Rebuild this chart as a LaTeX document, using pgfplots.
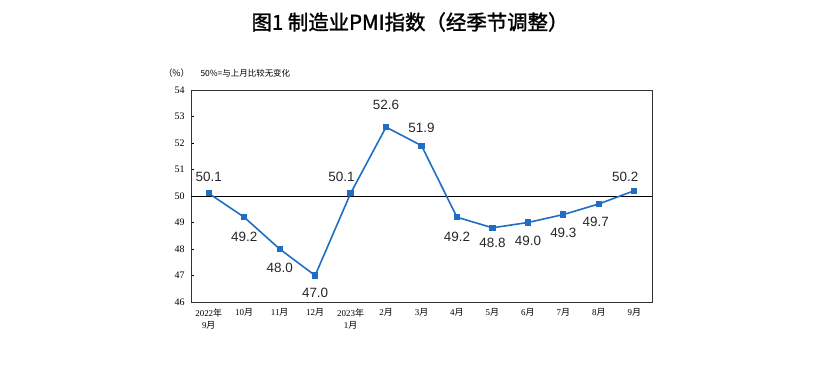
\documentclass[border=0pt]{standalone}
\usepackage{pgfplots}
\pgfplotsset{compat=1.18}
\usepackage{fontspec}
\setmainfont{Liberation Serif}
\newfontfamily\arialf{Liberation Sans}
\newfontfamily\cjk{Noto Sans CJK SC}
\newfontfamily\cjkt[BoldFont={Noto Sans CJK SC}, BoldFeatures={FakeBold=1.5}]{Noto Sans CJK SC}
\definecolor{lineblue}{HTML}{1F6EC4}
\pgfplotstableread{
x y lab dx dy
0 50.1 50.1 0 16
1 49.2 49.2 0 -20
2 48.0 48.0 0 -19
3 47.0 47.0 0 -17.5
4 50.1 50.1 -9 16
5 52.6 52.6 0 22
6 51.9 51.9 0 17.6
7 49.2 49.2 0 -20
8 48.8 48.8 0 -15
9 49.0 49.0 0 -18.5
10 49.3 49.3 0 -18.4
11 49.7 49.7 -3 -18
12 50.2 50.2 -9 14
}\pmidata
\begin{document}
\begin{tikzpicture}[x=1bp,y=1bp]
\useasboundingbox (0,0) rectangle (839,379);
\node[font={\cjkt\bfseries\fontsize{20.5}{24}\selectfont}] at (410,357) {图1 制造业PMI指数（经季节调整）};
\node[font={\cjk\fontsize{9}{10}\selectfont}, anchor=west] at (160,306) {（\%）};
\node[font={\cjk\fontsize{8.5}{10}\selectfont}, anchor=west] at (197,306) {50\%=与上月比较无变化};
\begin{axis}[
  at={(191bp,77bp)}, anchor=south west, scale only axis,
  width=461bp, height=212bp,
  xmin=-0.5, xmax=12.5, ymin=46, ymax=54,
  ytick={46,47,...,54},
  xtick={0,...,12},
  xticklabels={{2022{\cjk 年}\\9{\cjk 月}},10{\cjk 月},11{\cjk 月},12{\cjk 月},{2023{\cjk 年}\\1{\cjk 月}},2{\cjk 月},3{\cjk 月},4{\cjk 月},5{\cjk 月},6{\cjk 月},7{\cjk 月},8{\cjk 月},9{\cjk 月}},
  xticklabel style={align=center, font={\fontsize{9}{12}\selectfont}, yshift=-3bp},
  yticklabel style={font={\fontsize{10}{12}\selectfont}, xshift=-3bp},
  /pgf/number format/assume math mode=true,
  xtick style={draw=none},
  ytick style={black, line width=0.6bp},
  major tick length=3bp,
  tick align=inside,
  ytick pos=left,
  axis line style={black!80, line width=0.9bp},
  clip=false,
]
\addplot[black, line width=0.9bp] coordinates {(-0.5,50) (12.5,50)};
\addplot[lineblue, line width=1.6bp, mark=square*, mark size=2.3bp,
  mark options={solid, fill=lineblue},
  point meta=explicit symbolic,
  visualization depends on={\thisrow{dx}\as\myDx},
  visualization depends on={\thisrow{dy}\as\myDy},
  nodes near coords,
  every node near coord/.style={anchor=center, inner sep=0pt, xshift=\myDx bp, yshift=\myDy bp, text=black!85, font={\arialf\fontsize{13.5}{14}\selectfont}},
] table[x=x, y=y, meta=lab] {\pmidata};
\end{axis}
\end{tikzpicture}
\end{document}
